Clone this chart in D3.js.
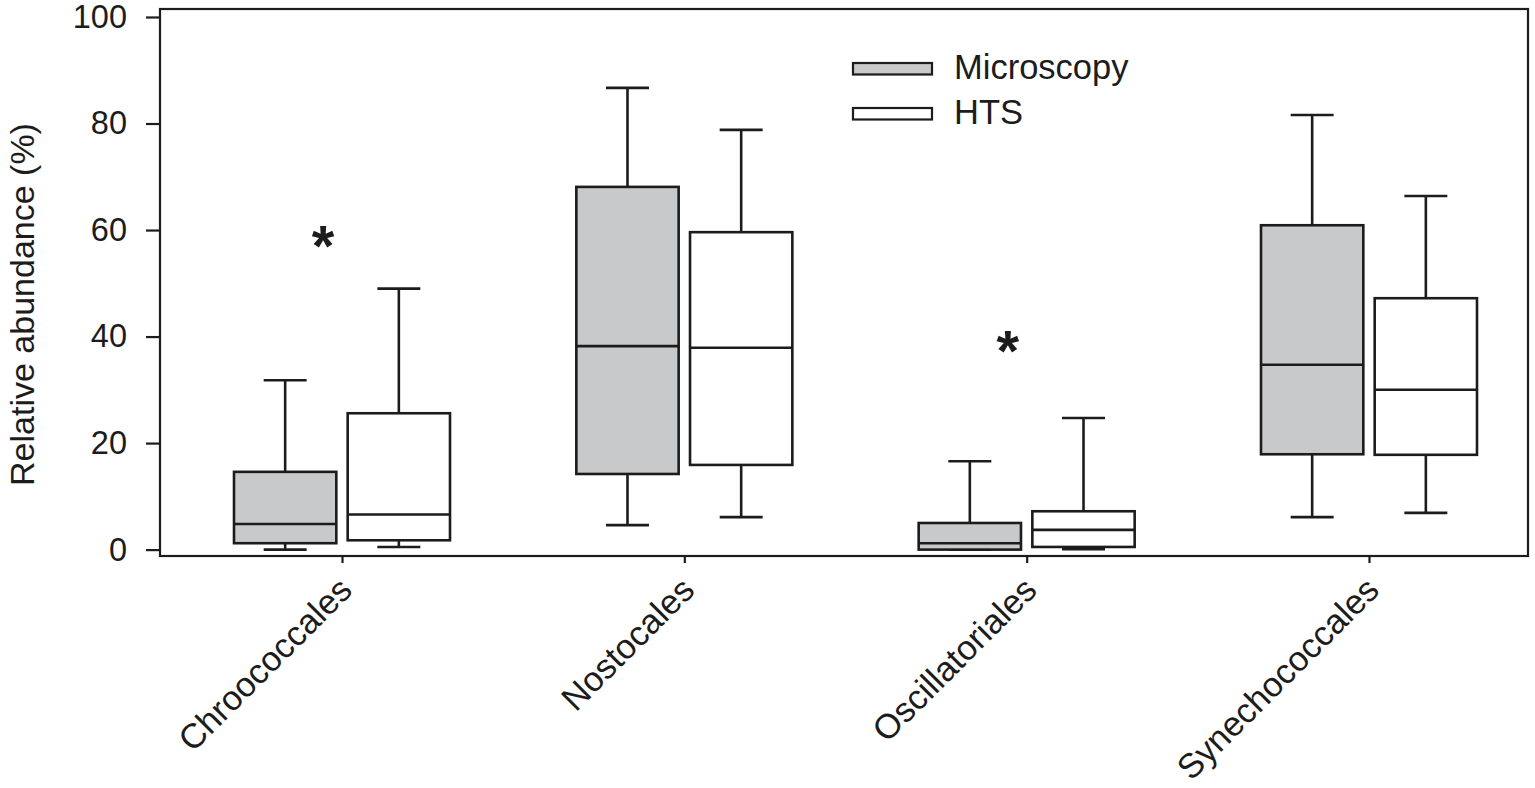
<!DOCTYPE html>
<html>
<head>
<meta charset="utf-8">
<script src="https://cdn.jsdelivr.net/npm/d3@7"></script>
<style>
  html, body { margin: 0; padding: 0; background: #fff; }
  svg { display: block; }
  text { font-family: "Liberation Sans", Arial, sans-serif; fill: #1c1c1c; }
</style>
</head>
<body>
<svg id="chart" width="1535" height="788"></svg>
<script>
// ---- Data ----
const categories = ["Chroococcales", "Nostocales", "Oscillatoriales", "Synechococcales"];
const seriesNames = ["Microscopy", "HTS"];

const microMin    = [0.0,  4.6, 0.0,  6.1];
const microQ1     = [1.2, 14.2, 0.0, 17.9];
const microMedian = [4.8, 38.2, 1.2, 34.7];
const microQ3     = [14.6, 68.1, 5.0, 60.9];
const microMax    = [31.8, 86.7, 16.6, 81.6];

const htsMin    = [0.5,  6.1, 0.1,  6.9];
const htsQ1     = [1.75, 15.9, 0.5, 17.8];
const htsMedian = [6.6, 37.9, 3.7, 30.0];
const htsQ3     = [25.6, 59.6, 7.2, 47.2];
const htsMax    = [49.0, 78.8, 24.7, 66.4];

const yTicks = [0, 20, 40, 60, 80, 100];
const sigCategories = ["Chroococcales", "Oscillatoriales"];
const sigValues = [58.7, 39.0];

// ---- Build table ----
const stats = {
  Microscopy: { min: microMin, q1: microQ1, median: microMedian, q3: microQ3, max: microMax },
  HTS: { min: htsMin, q1: htsQ1, median: htsMedian, q3: htsQ3, max: htsMax }
};
const boxes = [];
categories.forEach((c, i) => {
  seriesNames.forEach(s => {
    const st = stats[s];
    boxes.push({ category: c, series: s, min: st.min[i], q1: st.q1[i], median: st.median[i], q3: st.q3[i], max: st.max[i] });
  });
});

// ---- Layout ----
const frame = { left: 160, right: 1528, top: 9, bottom: 556 };
const fills = { Microscopy: "#c8c9cb", HTS: "#ffffff" };
const stroke = "#1c1c1c";
const sw = 2.6;

const svg = d3.select("#chart");

const y = d3.scaleLinear().domain([-1.2, 101.5]).range([frame.bottom, frame.top]);
const x = d3.scalePoint().domain(categories).range([342, 1369]);
const xs = d3.scaleBand().domain(seriesNames).range([-108, 108]).paddingInner(0.1);
const bw = xs.bandwidth();
const capW = bw * 0.42;

// Frame
svg.append("rect")
  .attr("x", frame.left).attr("y", frame.top)
  .attr("width", frame.right - frame.left).attr("height", frame.bottom - frame.top)
  .attr("fill", "none").attr("stroke", stroke).attr("stroke-width", 2.2);

// Y axis
const yAxis = d3.axisLeft(y).tickValues(yTicks).tickSize(14).tickPadding(19).tickFormat(d3.format("d"));
const gy = svg.append("g").attr("transform", `translate(${frame.left},0)`).call(yAxis);
gy.select(".domain").remove();
gy.selectAll(".tick line").attr("stroke", stroke).attr("stroke-width", 2.2);
gy.selectAll(".tick text").attr("font-size", 32.5).attr("fill", "#1c1c1c")
  .attr("font-family", '"Liberation Sans", Arial, sans-serif');

// X axis
const xAxis = d3.axisBottom(x).tickSize(7).tickFormat("");
const gx = svg.append("g").attr("transform", `translate(0,${frame.bottom})`).call(xAxis);
gx.select(".domain").remove();
gx.selectAll(".tick line").attr("stroke", stroke).attr("stroke-width", 2.2);

// X labels rotated
svg.append("g").selectAll("text").data(categories).join("text")
  .attr("transform", d => `translate(${x(d) + 12},${592}) rotate(-45)`)
  .attr("text-anchor", "end")
  .attr("font-size", 34.5)
  .text(d => d);

// Y title
svg.append("text")
  .attr("transform", `translate(34,${(frame.top + frame.bottom) / 2 + 22}) rotate(-90)`)
  .attr("text-anchor", "middle")
  .attr("font-size", 34)
  .text("Relative abundance (%)");

// Boxes
const g = svg.append("g");
const bx = d => x(d.category) + xs(d.series);
const cx = d => bx(d) + bw / 2;

const box = g.selectAll("g.box").data(boxes).join("g").attr("class", "box");
// whiskers
box.append("line")
  .attr("x1", cx).attr("x2", cx)
  .attr("y1", d => y(d.q3)).attr("y2", d => y(d.max))
  .attr("stroke", stroke).attr("stroke-width", sw);
box.append("line")
  .attr("x1", cx).attr("x2", cx)
  .attr("y1", d => y(d.q1)).attr("y2", d => y(d.min))
  .attr("stroke", stroke).attr("stroke-width", sw);
// caps
box.append("line")
  .attr("x1", d => cx(d) - capW / 2).attr("x2", d => cx(d) + capW / 2)
  .attr("y1", d => y(d.max)).attr("y2", d => y(d.max))
  .attr("stroke", stroke).attr("stroke-width", sw);
box.append("line")
  .attr("x1", d => cx(d) - capW / 2).attr("x2", d => cx(d) + capW / 2)
  .attr("y1", d => y(d.min)).attr("y2", d => y(d.min))
  .attr("stroke", stroke).attr("stroke-width", sw);
// box
box.append("rect")
  .attr("x", bx).attr("width", bw)
  .attr("y", d => y(d.q3)).attr("height", d => y(d.q1) - y(d.q3))
  .attr("fill", d => fills[d.series])
  .attr("stroke", stroke).attr("stroke-width", sw);
// median
box.append("line")
  .attr("x1", bx).attr("x2", d => bx(d) + bw)
  .attr("y1", d => y(d.median)).attr("y2", d => y(d.median))
  .attr("stroke", stroke).attr("stroke-width", sw);

// Significance asterisks
svg.append("g").selectAll("text").data(sigCategories).join("text")
  .attr("x", d => x(d) - 19)
  .attr("y", (d, i) => y(sigValues[i]) + 29)
  .attr("text-anchor", "middle")
  .attr("font-size", 58)
  .attr("font-weight", "bold")
  .text("*");

// Legend
const legend = svg.append("g").attr("transform", "translate(853,63)");
const li = legend.selectAll("g").data(seriesNames).join("g")
  .attr("transform", (d, i) => `translate(0,${i * 45})`);
li.append("rect").attr("width", 79).attr("height", 11.5)
  .attr("fill", d => fills[d]).attr("stroke", stroke).attr("stroke-width", 2.2);
li.append("text").attr("x", 101).attr("y", 15.5).attr("font-size", 34.5).text(d => d);
</script>
</body>
</html>
